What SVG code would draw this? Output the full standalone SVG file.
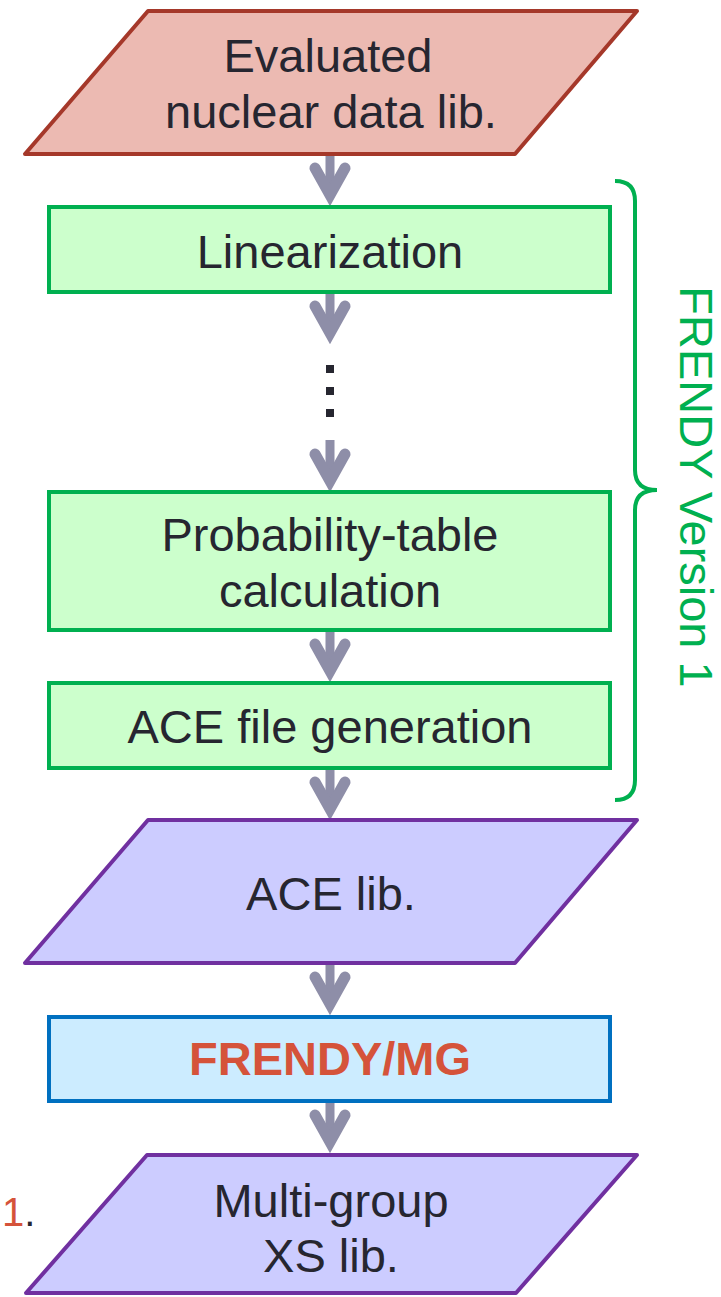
<svg xmlns="http://www.w3.org/2000/svg" width="721" height="1297" viewBox="0 0 721 1297">
<style>
.t{font-family:"Liberation Sans",Arial,sans-serif;font-size:47px;fill:#262630;text-anchor:middle}
.green rect{fill:#CCFFCC;stroke:#00B050;stroke-width:4}
.arr{fill:#8E8EA8;stroke:none}
.chev{fill:none;stroke:#8E8EA8;stroke-width:11;stroke-linecap:round;stroke-linejoin:miter}
</style>
<defs>
<g id="arrow">
<rect class="arr" x="-4.5" y="0" width="9" height="40"/>
<polyline class="chev" points="-15,14 0,41 15,14"/>
</g>
</defs>
<rect width="721" height="1297" fill="#fff"/>
<g id="connectors">
<use href="#arrow" x="330" y="154"/>
<use href="#arrow" x="330" y="292"/>
<use href="#arrow" x="330" y="440"/>
<use href="#arrow" x="330" y="630"/>
<use href="#arrow" x="330" y="768"/>
<use href="#arrow" x="330" y="963"/>
<use href="#arrow" x="330" y="1101"/>
</g>
<g id="evaluated">
<polygon points="148,11 637,11 515,154 25,154" fill="#ECBAB2" stroke="#A5382A" stroke-width="4" stroke-linejoin="round"/>
<text class="t" x="328" y="72">Evaluated</text>
<text class="t" x="331" y="128">nuclear data lib.</text>
</g>
<g id="linearization" class="green">
<rect x="49" y="207" width="561" height="85"/>
<text class="t" x="330" y="268">Linearization</text>
</g>
<g id="dots" fill="#262630">
<rect x="326" y="365" width="8" height="8"/>
<rect x="326" y="387" width="8" height="8"/>
<rect x="326" y="409" width="8" height="8"/>
</g>
<g id="probability" class="green">
<rect x="49" y="492" width="561" height="138"/>
<text class="t" x="330" y="551">Probability-table</text>
<text class="t" x="330" y="607">calculation</text>
</g>
<g id="acegen" class="green">
<rect x="49" y="683" width="561" height="85"/>
<text class="t" x="330" y="743">ACE file generation</text>
</g>
<g id="brace">
<path d="M615,181 Q635,181 635,201 L635,470 Q635,490 657,490 Q635,490 635,510 L635,780 Q635,800 615,800" fill="none" stroke="#00B050" stroke-width="4"/>
<text class="t" transform="translate(680,487) rotate(90)" x="0" y="0" style="fill:#00B050">FRENDY Version 1</text>
</g>
<g id="acelib">
<polygon points="148,820 637,820 515,963 25,963" fill="#CCCCFF" stroke="#7030A0" stroke-width="4" stroke-linejoin="round"/>
<text class="t" x="331" y="910">ACE lib.</text>
</g>
<g id="frendymg">
<rect x="49" y="1017" width="561" height="84" fill="#CCECFF" stroke="#0070C0" stroke-width="4"/>
<text class="t" x="330" y="1075" style="font-weight:bold;fill:#D5533A">FRENDY/MG</text>
</g>
<g id="multigroup">
<polygon points="147,1155 637,1155 516,1293 26,1293" fill="#CCCCFF" stroke="#7030A0" stroke-width="4" stroke-linejoin="round"/>
<text class="t" x="331" y="1217">Multi-group</text>
<text class="t" x="331" y="1272">XS lib.</text>
</g>
<g id="label1">
<text x="2" y="1226" style="font-family:'Liberation Sans',Arial,sans-serif;font-size:40px"><tspan fill="#D5533A">1</tspan><tspan fill="#262630">.</tspan></text>
</g>
</svg>
